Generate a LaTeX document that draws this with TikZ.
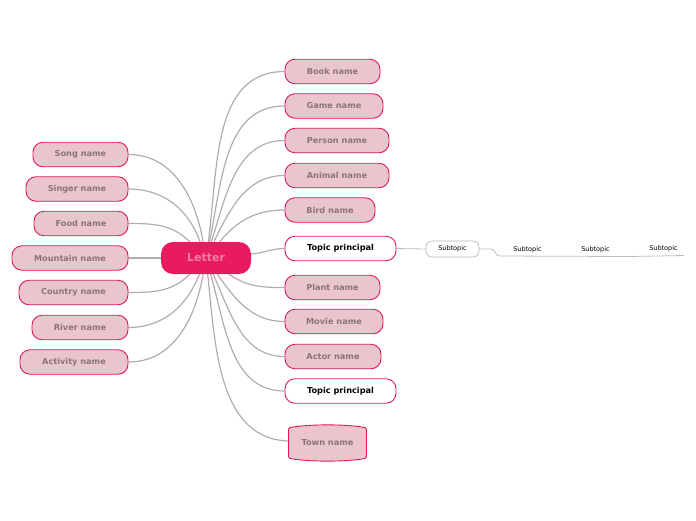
\documentclass[tikz,border=0pt]{standalone}
\usepackage{fontspec}
\setmainfont{DejaVu Sans}
\usetikzlibrary{backgrounds,calc}
\definecolor{leafc}{HTML}{E8C6CC}
\definecolor{bordc}{HTML}{E0185A}
\definecolor{leaft}{HTML}{8C7479}
\definecolor{centc}{HTML}{E91B5F}
\definecolor{centt}{HTML}{F37DA5}
\definecolor{connc}{HTML}{AEAEAE}
\tikzset{
  leaf/.style={draw=bordc, fill=leafc, rounded corners=10pt, line width=0.9pt, minimum height=24.5pt, text=leaft, font=\bfseries\fontsize{8.2}{10}\selectfont, inner sep=0pt},
  topic/.style={leaf, fill=white, text=black},
  center/.style={fill=centc, rounded corners=12pt, minimum width=90pt, minimum height=32pt, text=centt, font=\bfseries\fontsize{11}{13}\selectfont, inner sep=0pt},
  conn/.style={draw=connc, line width=1.2pt},
  thin/.style={draw=connc!80, line width=0.8pt},
  sub/.style={font=\fontsize{6.5}{8}\selectfont, inner sep=0pt, text=black},
  subbox/.style={sub, draw=connc!90, fill=white, rounded corners=6pt, minimum width=53pt, minimum height=16pt, line width=0.6pt},
}
\begin{document}
\begin{tikzpicture}[x=1pt,y=1pt]
\useasboundingbox (0,0) rectangle (696,-520);
\node[center] (c) at (206,-258) {Letter};
% right
\node[leaf, minimum width=95pt] (book) at (332.5,-71.5) {Book name};
\node[leaf, minimum width=98pt] (game) at (334,-106) {Game name};
\node[leaf, minimum width=104pt] (person) at (337,-140.5) {Person name};
\node[leaf, minimum width=104pt] (animal) at (337,-175.5) {Animal name};
\node[leaf, minimum width=90pt] (bird) at (330,-210) {Bird name};
\node[topic, minimum width=111pt] (tp1) at (340.5,-248.5) {Topic principal};
\node[leaf, minimum width=95pt] (plant) at (332.5,-287.5) {Plant name};
\node[leaf, minimum width=98pt] (movie) at (334,-321.5) {Movie name};
\node[leaf, minimum width=96pt] (actor) at (333,-356.5) {Actor name};
\node[topic, minimum width=111pt] (tp2) at (340.5,-391) {Topic principal};
% town (barrel shape)
\node[minimum width=77pt, minimum height=36pt, inner sep=0pt] (town) at (327.5,-443) {};
\draw[draw=bordc, fill=leafc, line width=0.9pt]
  (290,-427.5) .. controls (309,-424) and (346,-424) .. (365,-427.5)
  .. controls (367,-428) and (366.5,-430) .. (366.5,-432)
  -- (366.5,-454)
  .. controls (366.5,-456) and (367,-458) .. (365,-458.5)
  .. controls (346,-462) and (309,-462) .. (290,-458.5)
  .. controls (288,-458) and (288.5,-456) .. (288.5,-454)
  -- (288.5,-432)
  .. controls (288.5,-430) and (288,-428) .. cycle;
\node[text=leaft, font=\bfseries\fontsize{8.2}{10}\selectfont] (townt) at (town) {Town name};
% left
\node[leaf, minimum width=95pt] (song) at (80.5,-154.5) {Song name};
\node[leaf, minimum width=102pt] (singer) at (77,-189) {Singer name};
\node[leaf, minimum width=94pt] (food) at (81,-223.5) {Food name};
\node[leaf, minimum width=116pt] (mount) at (70,-258) {Mountain name};
\node[leaf, minimum width=109pt] (country) at (73.5,-292.5) {Country name};
\node[leaf, minimum width=96pt] (river) at (80,-327.5) {River name};
\node[leaf, minimum width=108pt] (activity) at (74,-362) {Activity name};
% subtopics
\node[subbox] (s1) at (452.5,-249) {Subtopic};
\node[sub] (s2) at (527.5,-249.5) {Subtopic};
\node[sub] (s3) at (595.5,-249.5) {Subtopic};
\node[sub] (s4) at (663.5,-248.5) {Subtopic};
\coordinate (ulend) at (684,-255.5);
\begin{pgfonlayer}{background}
\draw[conn] (c) to[out=82,in=180] (book.west);
\draw[conn] (c) to[out=78,in=180] (game.west);
\draw[conn] (c) to[out=72,in=180] (person.west);
\draw[conn] (c) to[out=64,in=180] (animal.west);
\draw[conn] (c) to[out=50,in=180] (bird.west);
\draw[conn] (c) to[out=5,in=180] (tp1.west);
\draw[conn] (c) to[out=-35,in=180] (plant.west);
\draw[conn] (c) to[out=-55,in=180] (movie.west);
\draw[conn] (c) to[out=-66,in=180] (actor.west);
\draw[conn] (c) to[out=-74,in=180] (tp2.west);
\draw[conn] (c) to[out=-84,in=180] ($(town.west)+(2,2)$);
\draw[conn] (c) to[out=100,in=0] (song.east);
\draw[conn] (c) to[out=110,in=0] (singer.east);
\draw[conn] (c) to[out=135,in=0] (food.east);
\draw[conn] (c) -- (mount.east);
\draw[conn] (c) to[out=-135,in=0] (country.east);
\draw[conn] (c) to[out=-112,in=0] (river.east);
\draw[conn] (c) to[out=-100,in=0] (activity.east);
\draw[thin] (tp1.east) -- (s1.west);
\draw[thin] (s1.east) -- ++(12,0) .. controls +(4,0) and +(-4,0) .. ++(8,-7) -- ($(s1.east)+(150,-7.5)$) -- (ulend);
\end{pgfonlayer}
\end{tikzpicture}
\end{document}
